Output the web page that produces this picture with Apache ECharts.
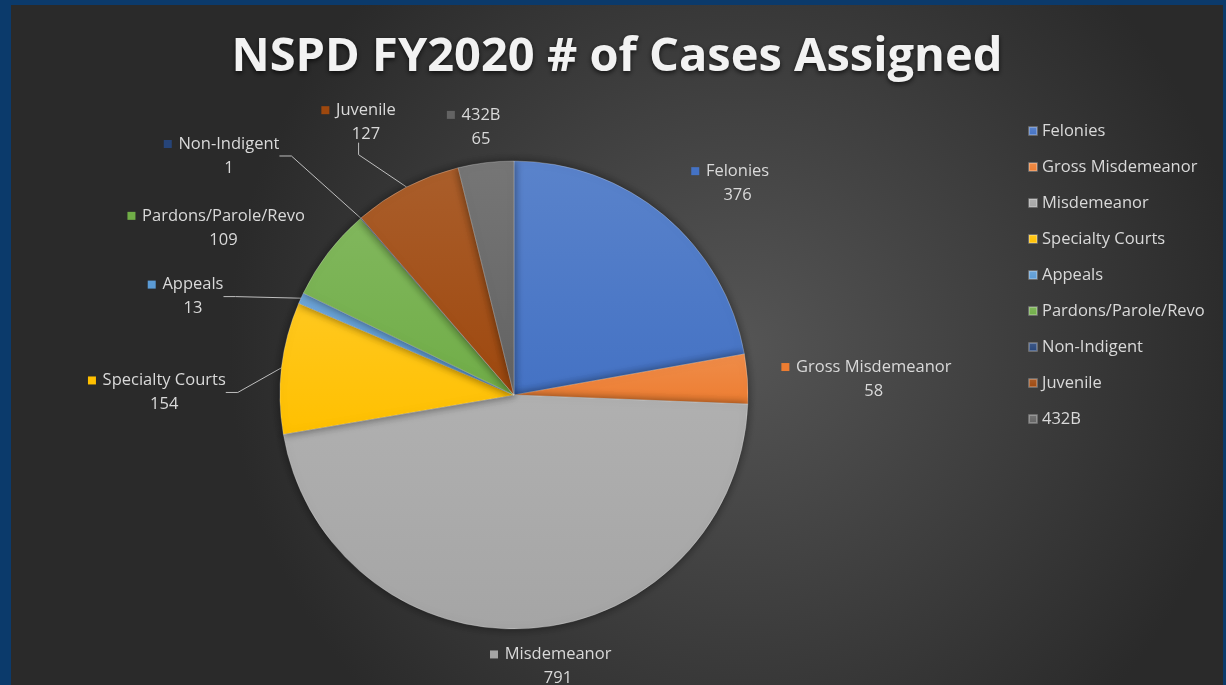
<!DOCTYPE html>
<html>
<head>
<meta charset="utf-8">
<script src="https://cdn.jsdelivr.net/npm/echarts@6/dist/echarts.min.js"></script>
<style>
  html, body { margin: 0; padding: 0; background: #0b3a6b; width: 1226px; height: 685px; overflow: hidden; }
  #chart { position: absolute; left: 11px; top: 5px; width: 1212px; height: 680px; }
</style>
</head>
<body>
<div id="chart"></div>
<script>
// ---- data ----
const titleText = 'NSPD FY2020 # of Cases Assigned';
const categories = ['Felonies', 'Gross Misdemeanor', 'Misdemeanor', 'Specialty Courts', 'Appeals',
                    'Pardons/Parole/Revo', 'Non-Indigent', 'Juvenile', '432B'];
const caseCounts = [376, 58, 791, 154, 13, 109, 1, 127, 65];

// ---- styles ----
const sliceColors = ['#4472C4', '#ED7D31', '#A5A5A5', '#FFC000', '#5B9BD5',
                     '#70AD47', '#264478', '#9E480E', '#636363'];
const showLine = [false, false, false, true, true, false, true, true, false];
// label nudges (style only), applied after the library lays labels out
const nudgeX = [-8, -11, -58, -11, -35, 16, -46, 19, 35];
const nudgeY = [-11, 2, 10, 28, 10, -8, -41, -40, -8];

function lighten(hex, amt) {
  const n = parseInt(hex.slice(1), 16);
  let r = (n >> 16) & 255, g = (n >> 8) & 255, b = n & 255;
  r = Math.round(r + (255 - r) * amt); g = Math.round(g + (255 - g) * amt); b = Math.round(b + (255 - b) * amt);
  return 'rgb(' + r + ',' + g + ',' + b + ')';
}

const FS = 16.5;
const rich = {
  name: { color: '#d9d9d9', fontSize: FS, fontFamily: 'Open Sans', lineHeight: 24 },
  val: { color: '#d9d9d9', fontSize: FS, fontFamily: 'Open Sans', lineHeight: 24 },
  sp: { width: 8, height: 8 }
};
sliceColors.forEach((c, i) => {
  rich['sq' + i] = { width: 8, height: 8, backgroundColor: c };
});

const pieData = categories.map((name, i) => ({
  name: name,
  value: caseCounts[i],
  itemStyle: {
    color: {
      type: 'linear', x: 0, y: 0, x2: 0, y2: 1,
      colorStops: [{ offset: 0, color: lighten(sliceColors[i], 0.12) }, { offset: 1, color: sliceColors[i] }]
    }
  },
  labelLine: { show: showLine[i] }
}));

const chart = echarts.init(document.getElementById('chart'), null, { renderer: 'canvas' });
chart.setOption({
  animation: false,
  backgroundColor: {
    type: 'radial', x: 0.6, y: 0.5, r: 0.75,
    colorStops: [{ offset: 0, color: '#555555' }, { offset: 1, color: '#2a2a2a' }]
  },
  color: sliceColors,
  title: {
    text: titleText,
    left: 'center',
    top: 24,
    textStyle: {
      color: '#f2f2f2', fontSize: 47, fontWeight: 'bold', fontFamily: 'Open Sans',
      textShadowColor: 'rgba(0,0,0,0.7)', textShadowBlur: 5, textShadowOffsetY: 2
    }
  },
  legend: {
    orient: 'vertical',
    left: 1012,
    top: 111,
    icon: 'rect',
    itemWidth: 8,
    itemHeight: 8,
    itemGap: 16,
    data: categories,
    textStyle: { color: '#d9d9d9', fontSize: FS, fontFamily: 'Open Sans', lineHeight: 20 }
  },
  series: [{
    type: 'pie',
    center: [503, 390],
    radius: 234,
    startAngle: 90,
    clockwise: true,
    avoidLabelOverlap: false,
    data: pieData,
    itemStyle: {
      borderColor: 'rgba(255,255,255,0.25)', borderWidth: 1,
      shadowBlur: 10, shadowColor: 'rgba(0,0,0,0.5)'
    },
    label: {
      show: true,
      position: 'outside',
      formatter: p => '{sq' + p.dataIndex + '|}  {name|' + p.name + '}\n{sp|}  {val|' + p.value + '}',
      rich: rich
    },
    labelLine: {
      length: 28,
      length2: 12,
      lineStyle: { color: '#bfbfbf', width: 1 }
    },
    labelLayout: function (params) {
      const r = params.labelRect;
      const i = params.dataIndex;
      return {
        x: r.x + r.width / 2 + nudgeX[i],
        y: r.y + r.height / 2 + nudgeY[i],
        align: 'center', verticalAlign: 'middle'
      };
    }
  }]
});
</script>
</body>
</html>
